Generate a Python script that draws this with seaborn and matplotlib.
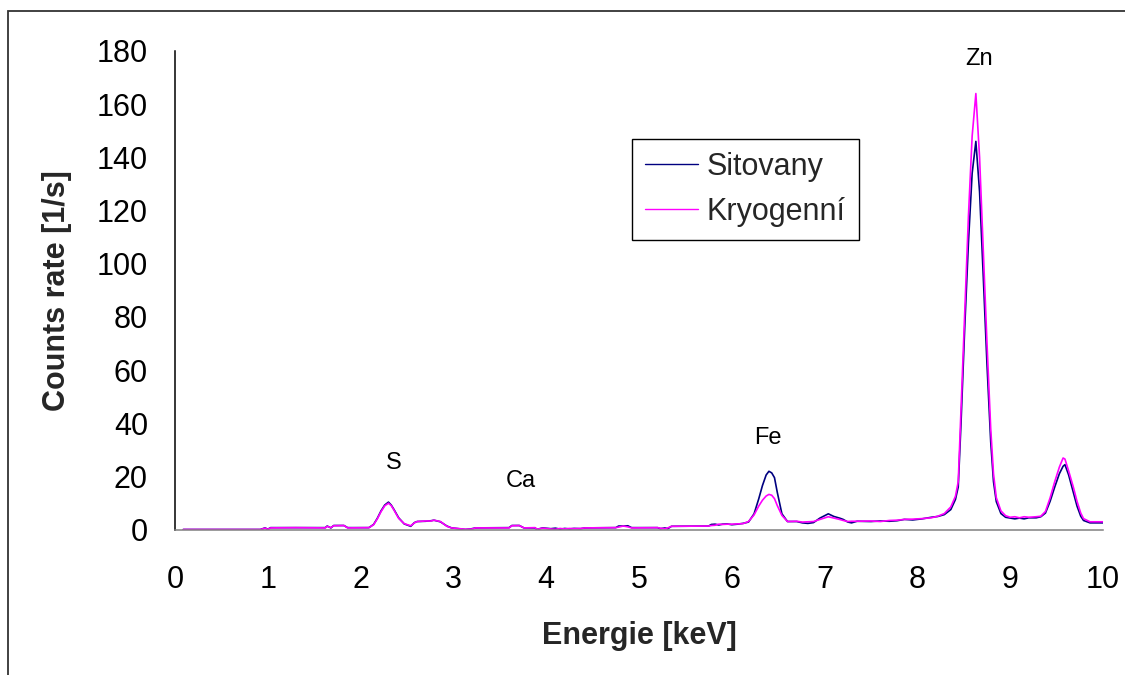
import matplotlib
matplotlib.use("Agg")
import matplotlib.pyplot as plt
import pandas as pd
import seaborn as sns
from matplotlib.patches import Rectangle

# Energy channels [keV] with count rates [1/s] for both samples
energy = [
    0.09, 0.50, 0.92, 0.97, 1.00, 1.03, 1.30, 1.62, 1.64, 1.68, 1.71, 1.82, 1.86,
    2.09, 2.14, 2.18, 2.22, 2.26, 2.30, 2.33, 2.36, 2.41, 2.47, 2.54, 2.58, 2.61,
    2.70, 2.76, 2.79, 2.86, 2.93, 2.98, 3.13, 3.20, 3.24, 3.60, 3.63, 3.71, 3.76,
    3.88, 3.90, 3.96, 4.05, 4.10, 4.15, 4.20, 4.25, 4.30, 4.37, 4.42, 4.75, 4.78,
    4.83, 4.88, 4.92, 5.20, 5.23, 5.28, 5.31, 5.35, 5.75, 5.78, 5.82, 5.86, 5.90,
    5.95, 6.00, 6.06, 6.12, 6.18, 6.24, 6.29, 6.33, 6.37, 6.40, 6.43, 6.46, 6.49,
    6.54, 6.60, 6.70, 6.76, 6.82, 6.88, 6.95, 7.00, 7.04, 7.10, 7.16, 7.20, 7.25,
    7.29, 7.35, 7.50, 7.60, 7.70, 7.78, 7.86, 7.95, 8.05, 8.15, 8.22, 8.29, 8.36,
    8.41, 8.44, 8.47, 8.51, 8.55, 8.59, 8.63, 8.67, 8.71, 8.75, 8.79, 8.82, 8.85,
    8.90, 8.95, 9.00, 9.05, 9.10, 9.15, 9.20, 9.28, 9.33, 9.38, 9.43, 9.48, 9.53,
    9.57, 9.59, 9.63, 9.68, 9.72, 9.76, 9.79, 9.86, 10.00,
]
sitovany = [
    0.0, 0.0, 0.0, 0.6, 0.1, 0.7, 0.7, 0.7, 1.3, 0.6, 1.5, 1.5, 0.7,
    0.7, 1.9, 4.2, 7.0, 9.2, 10.3, 9.2, 7.5, 4.4, 2.1, 1.2, 2.6, 3.0,
    3.1, 3.3, 3.5, 2.9, 1.3, 0.6, 0.0, 0.3, 0.6, 0.7, 1.5, 1.5, 0.6,
    0.6, 0.0, 0.6, 0.3, 0.5, 0.1, 0.4, 0.2, 0.4, 0.3, 0.6, 0.7, 1.3,
    1.3, 1.4, 0.7, 0.7, 0.3, 0.6, 0.3, 1.2, 1.3, 1.9, 2.0, 1.7, 2.0,
    2.1, 1.8, 2.0, 2.3, 2.8, 5.9, 11.5, 16.5, 20.5, 21.9, 21.3, 19.5, 14.0,
    5.9, 3.0, 3.0, 2.5, 2.3, 2.6, 4.3, 5.2, 5.9, 4.9, 4.3, 3.8, 2.8,
    2.5, 3.1, 3.0, 3.2, 3.1, 3.3, 3.8, 3.6, 4.0, 4.6, 4.9, 5.6, 7.5,
    11.3, 16.0, 40.0, 76.0, 108.0, 134.0, 146.0, 127.0, 95.0, 62.0, 33.0, 18.0, 10.5,
    6.0, 4.6, 4.3, 4.0, 4.3, 4.0, 4.4, 4.4, 4.8, 6.2, 10.6, 16.0, 21.0,
    23.8, 24.4, 20.5, 14.0, 8.8, 5.0, 3.4, 2.5, 2.5,
]
kryogenni = [
    0.0, 0.0, 0.0, 0.5, 0.1, 0.6, 0.7, 0.6, 1.2, 0.7, 1.4, 1.5, 0.6,
    0.7, 1.8, 4.0, 6.7, 8.9, 9.9, 9.0, 7.3, 4.2, 2.2, 1.4, 2.5, 3.0,
    3.2, 3.2, 3.5, 3.0, 1.2, 0.6, 0.1, 0.2, 0.6, 0.6, 1.4, 1.5, 0.6,
    0.7, 0.1, 0.5, 0.2, 0.1, 0.4, 0.2, 0.4, 0.3, 0.4, 0.6, 0.7, 0.9,
    1.3, 1.0, 0.6, 0.7, 0.5, 0.3, 0.6, 1.2, 1.3, 1.5, 1.6, 2.0, 1.9,
    2.0, 2.0, 2.1, 2.2, 3.0, 5.5, 8.8, 11.0, 12.6, 13.2, 12.9, 11.6, 9.0,
    5.3, 3.0, 3.1, 2.8, 2.9, 3.0, 3.8, 4.4, 4.8, 4.3, 3.8, 3.4, 3.0,
    3.1, 3.1, 3.2, 3.0, 3.4, 3.5, 3.8, 3.9, 4.1, 4.4, 5.0, 6.0, 8.5,
    12.5, 18.0, 45.0, 82.0, 118.0, 148.0, 164.0, 140.0, 105.0, 70.0, 38.0, 21.0, 12.0,
    7.0, 5.2, 4.6, 4.8, 4.4, 4.8, 4.6, 4.8, 5.0, 6.8, 11.9, 18.0, 23.5,
    26.9, 26.5, 22.0, 16.0, 10.6, 6.2, 4.1, 2.9, 2.9,
]
series_names = ["Sitovany", "Kryogenní"]
series_colors = ["#000080", "#FF00FF"]

peak_labels = ["S", "Ca", "Fe", "Zn"]
peak_label_x = [2.36, 3.73, 6.39, 8.66]
peak_label_y = [25.2, 18.2, 34.4, 177.0]

x_ticks = list(range(0, 11))
y_ticks = list(range(0, 181, 20))

sns.set_style("white")
plt.rcParams["font.family"] = ["Liberation Sans", "DejaVu Sans"]

df = pd.DataFrame({"Energie": energy, series_names[0]: sitovany, series_names[1]: kryogenni})
long_df = df.melt(id_vars="Energie", var_name="Vzorek", value_name="Counts")

W, H = 1125, 675
fig = plt.figure(figsize=(W / 100, H / 100), dpi=100)
x0, x1, y0, y1 = 175, 1103, 529.5, 51
ax = fig.add_axes([x0 / W, 1 - y0 / H, (x1 - x0) / W, (y0 - y1) / H])

sns.lineplot(
    data=long_df, x="Energie", y="Counts", hue="Vzorek",
    palette=dict(zip(series_names, series_colors)),
    hue_order=series_names, linewidth=1.2, sort=False, ax=ax,
)

ax.set_xlim(0, 10)
ax.set_ylim(0, 180)
ax.set_xticks(x_ticks)
ax.set_yticks(y_ticks)
ax.set_xticklabels([str(v) for v in x_ticks])
ax.set_yticklabels([str(v) for v in y_ticks])

for side in ("top", "right"):
    ax.spines[side].set_visible(False)
ax.spines["left"].set_color("black")
ax.spines["left"].set_linewidth(1.1)
ax.spines["bottom"].set_color("#808080")
ax.spines["bottom"].set_linewidth(1.1)

ax.tick_params(axis="x", direction="out", length=7.2, width=1.1, color="black",
               pad=18, labelsize=22, labelcolor="black")
ax.tick_params(axis="y", direction="out", length=6.5, width=1.1, color="#808080",
               pad=13, labelsize=22, labelcolor="black")

ax.set_xlabel("Energie [keV]", fontsize=22, fontweight="bold")
ax.set_ylabel("Counts rate [1/s]", fontsize=22, fontweight="bold")
ax.xaxis.set_label_coords(0.5, (y0 - 636) / (y0 - y1))
ax.xaxis.label.set_va("center")
ax.yaxis.set_label_coords((57 - x0) / (x1 - x0), 0.5)
ax.yaxis.label.set_va("center")

for lab, px, py in zip(peak_labels, peak_label_x, peak_label_y):
    ax.text(px, py, lab, ha="center", va="center", fontsize=17, color="black")

handles, labels = ax.get_legend_handles_labels()
for h in handles:
    h.set_linewidth(1.0)
leg = ax.legend(
    handles, labels, loc="upper left",
    bbox_to_anchor=((632 - x0) / (x1 - x0), (y0 - 139) / (y0 - y1)),
    fontsize=22, frameon=True, fancybox=False, framealpha=1, edgecolor="black",
    handlelength=1.73, handletextpad=0.3, borderpad=0.42, labelspacing=0.5,
    borderaxespad=0,
)
leg.get_frame().set_linewidth(1.0)

# outer chart frame
fig.patches.append(Rectangle((8 / W, -0.05), 1.2, 1 - 11 / H + 0.05,
                             transform=fig.transFigure, fill=False,
                             edgecolor="#333333", linewidth=1.3))

fig.savefig("out.png", dpi=100, facecolor="white")
